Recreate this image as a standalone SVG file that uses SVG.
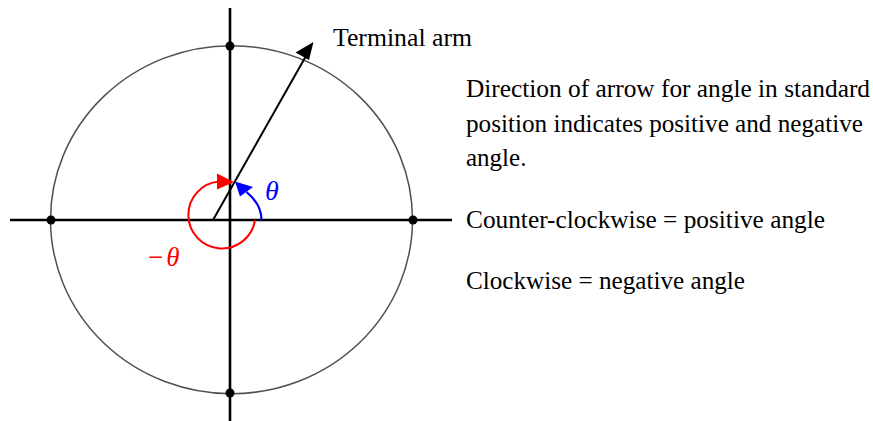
<svg xmlns="http://www.w3.org/2000/svg" width="873" height="421" viewBox="0 0 873 421">
<style>
.txt{font-family:"Liberation Serif","Times New Roman",serif;font-size:25px;fill:#000}
.axis{stroke:#000;stroke-width:2.6;fill:none}
.dot{fill:#000}
</style>
<rect width="873" height="421" fill="#fff"/>
<g id="circle"><ellipse cx="231.5" cy="219.7" rx="181" ry="174" fill="none" stroke="#505050" stroke-width="1.5"/></g>
<g id="connectors">
<line class="axis" x1="10" y1="220" x2="452" y2="220"/>
<line class="axis" x1="230" y1="8" x2="230" y2="421"/>
<line x1="213" y1="220" x2="306" y2="56" stroke="#000" stroke-width="2"/>
<polygon points="313.5,42 295.5,52.5 309,60" fill="#000"/>
<path d="M255,220 A33.5,33.5 0 1 1 219,181.6" fill="none" stroke="#ff0000" stroke-width="2"/>
<polygon points="217,173.5 217,189.5 234,182" fill="#ff0000"/>
<path d="M261.5,220 C261.5,208 255,199 246.5,192" fill="none" stroke="#0000ff" stroke-width="2.2"/>
<polygon points="235,181.5 240,196.5 253,187" fill="#0000ff"/>
</g>
<g id="dots">
<circle class="dot" cx="51" cy="220" r="4.5"/>
<circle class="dot" cx="413" cy="220" r="4.5"/>
<circle class="dot" cx="230" cy="46" r="4.5"/>
<circle class="dot" cx="230" cy="393" r="4.5"/>
</g>
<g id="labels">
<text class="txt" x="333" y="46" textLength="139" lengthAdjust="spacingAndGlyphs">Terminal arm</text>
<text x="265" y="200" font-family="Liberation Serif,serif" font-style="italic" font-size="28" fill="#0000ff">θ</text>
<text x="148" y="266" font-family="Liberation Serif,serif" font-size="27" fill="#ff0000">−<tspan font-style="italic" dx="3">θ</tspan></text>
</g>
<g id="description">
<text class="txt" x="466" y="97" textLength="404" lengthAdjust="spacingAndGlyphs">Direction of arrow for angle in standard</text>
<text class="txt" x="466" y="132" textLength="397" lengthAdjust="spacingAndGlyphs">position indicates positive and negative</text>
<text class="txt" x="466" y="166">angle.</text>
<text class="txt" x="466" y="228" textLength="359" lengthAdjust="spacingAndGlyphs">Counter-clockwise = positive angle</text>
<text class="txt" x="466" y="289" textLength="279" lengthAdjust="spacingAndGlyphs">Clockwise = negative angle</text>
</g>
</svg>
